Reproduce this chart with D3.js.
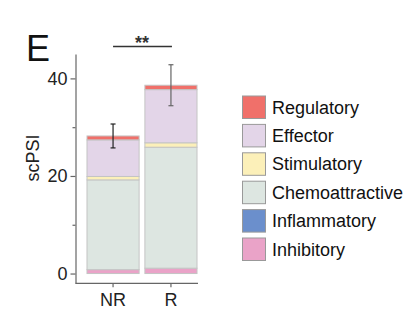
<!DOCTYPE html>
<html><head><meta charset="utf-8">
<script src="https://cdn.jsdelivr.net/npm/d3@7"></script>
<style>body{margin:0;background:#fff}svg{display:block}text{font-family:"Liberation Sans",Arial,sans-serif}</style>
</head><body><svg id="c" width="417" height="331"></svg>
<script>
const groups = ["NR", "R"];
const categories = ["Inhibitory", "Inflammatory", "Chemoattractive", "Stimulatory", "Effector", "Regulatory"];
const legendOrder = ["Regulatory", "Effector", "Stimulatory", "Chemoattractive", "Inflammatory", "Inhibitory"];
const colors = ["#EAA3C8", "#6B8FCC", "#DDE6E1", "#FCF0B9", "#E3D5E8", "#F0706A"];
const valuesNR = [0.8, 0, 18.4, 0.7, 7.5, 0.8];
const valuesR = [1.1, 0, 24.8, 0.9, 10.9, 0.9];
const errMean = [28.2, 38.6];
const errSize = [2.45, 4.2];
const yTicks = [0, 20, 40];
const yMinor = [10, 30];
const sigLabel = "**";

const svg = d3.select("#c");
const y = d3.scaleLinear().domain([-2, 45]).range([283.3, 54]);
const x = d3.scaleBand().domain(groups).range([87, 197]).paddingInner(0.1).paddingOuter(0);
const color = d3.scaleOrdinal().domain(categories).range(colors);

const rows = groups.map((g, i) => {
  const v = i === 0 ? valuesNR : valuesR;
  const o = {group: g};
  categories.forEach((c, j) => o[c] = v[j]);
  return o;
});
const stacked = d3.stack().keys(categories)(rows);

const g = svg.append("g");
stacked.forEach(layer => {
  g.selectAll(null).data(layer).enter().append("rect")
    .attr("x", d => x(d.data.group))
    .attr("width", x.bandwidth())
    .attr("y", d => y(d[1]))
    .attr("height", d => Math.max(0, y(d[0]) - y(d[1])))
    .attr("fill", color(layer.key))
    .attr("stroke", d => (d[1] - d[0]) > 0 ? "#c4c4c4" : "none")
    .attr("stroke-width", 1);
});

// error bars
const errColors = ["#222", "#666"];
groups.forEach((grp, i) => {
  const cx = x(grp) + x.bandwidth() / 2;
  const eg = svg.append("g").attr("stroke", errColors[i]).attr("stroke-width", 1.2);
  eg.append("line").attr("x1", cx).attr("x2", cx).attr("y1", y(errMean[i] + errSize[i])).attr("y2", y(errMean[i] - errSize[i]));
  [errMean[i] + errSize[i], errMean[i] - errSize[i]].forEach(v => {
    eg.append("line").attr("x1", cx - 2.5).attr("x2", cx + 2.5).attr("y1", y(v)).attr("y2", y(v));
  });
});

// y axis
const yAxis = svg.append("g").attr("transform", "translate(75.5,0)")
  .call(d3.axisLeft(y).tickValues(yTicks).tickSize(5).tickPadding(3).tickSizeOuter(0));
svg.append("g").attr("transform", "translate(75.5,0)")
  .call(d3.axisLeft(y).tickValues(yMinor).tickSize(3).tickFormat("").tickSizeOuter(0))
  .select(".domain").remove();
svg.selectAll(".tick line, .domain").attr("stroke", "#666").attr("stroke-width", 1.2);
yAxis.selectAll("text").attr("font-size", 18).attr("fill", "#222");

// x axis
const xAxis = svg.append("g").attr("transform", "translate(0,283.3)")
  .call(d3.axisBottom(x).tickSize(4).tickPadding(6).tickSizeOuter(0));
xAxis.select(".domain").attr("d", "M75.5,0H198");
xAxis.selectAll(".domain, .tick line").attr("stroke", "#666").attr("stroke-width", 1.2);
xAxis.selectAll("text").attr("font-size", 18).attr("fill", "#222");

// y label
svg.append("text").attr("transform", "translate(38.5,158) rotate(-90)")
  .attr("text-anchor", "middle").attr("font-size", 18).attr("fill", "#222").text("scPSI");

// panel letter
svg.append("text").attr("x", 26).attr("y", 61).attr("font-size", 36).attr("fill", "#111").text("E");

// significance
const x1 = x("NR") + x.bandwidth() / 2, x2 = x("R") + x.bandwidth() / 2;
svg.append("line").attr("x1", x1).attr("x2", x2 + 1).attr("y1", 46.5).attr("y2", 46.5)
  .attr("stroke", "#333").attr("stroke-width", 1.3);
svg.append("text").attr("x", (x1 + x2) / 2).attr("y", 49).attr("text-anchor", "middle")
  .attr("font-size", 18).attr("font-weight", "bold").attr("fill", "#333").text(sigLabel);

// legend
const lg = svg.append("g").attr("transform", "translate(242.5,96)");
legendOrder.forEach((c, i) => {
  const row = lg.append("g").attr("transform", `translate(0,${i * 28.4})`);
  row.append("rect").attr("width", 23).attr("height", 22.5)
    .attr("fill", color(c)).attr("stroke", "#999").attr("stroke-width", 1);
  row.append("text").attr("x", 29.5).attr("y", 17.5).attr("font-size", 18).attr("fill", "#111").text(c);
});
</script></body></html>
